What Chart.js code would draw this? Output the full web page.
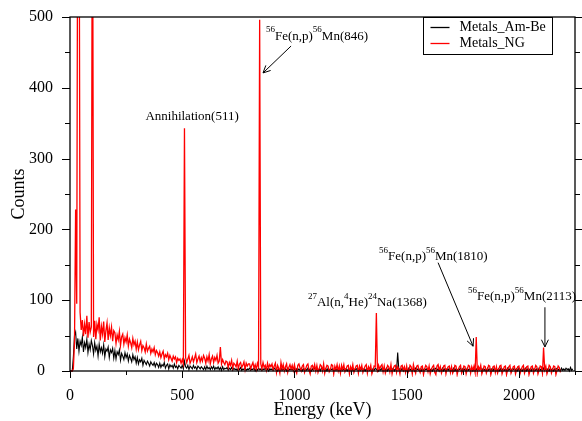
<!DOCTYPE html>
<html>
<head>
<meta charset="utf-8">
<script src="https://cdn.jsdelivr.net/npm/chart.js@4.4.0/dist/chart.umd.min.js"></script>
<style>
  html, body { margin: 0; padding: 0; background: #fff; }
  #wrap { width: 582px; height: 421px; }
</style>
</head>
<body>
<div id="wrap"><canvas id="spectrum" width="582" height="421"></canvas></div>
<script>
// channel width of the spectra (keV), first channel at 0 keV
const E_STEP = 5;

// Metals_NG (red), one value per channel, 0 .. 2185 keV
const countsNG = [
  0,0,0,3,40,228,95,800,800,83,58,72,49,66,52,78,47,69,55,62,
  800,48,71,45,66,58,76,43,63,52,70,41,57,68,44,61,50,62,42,57,
  54,39,51,44,56,36,48,52,38,47,41,51,35,45,40,33,46,37,42,31,
  41,30,37,42,29,36,33,27,38,28,32,35,25,31,27,33,23,29,26,21,
  27,19,24,28,17,23,20,25,16,22,18,14,21,17,20,12,18,15,17,11,
  16,10,343,19,12,17,22,11,15,20,13,18,24,12,17,21,13,19,14,22,
  18,11,20,14,23,10,17,21,12,19,15,22,11,14,34,10,16,12,9,14,
  13,5,12,8,15,4,11,9,6,14,3,10,12,5,8,13,2,11,7,10,
  10,3,8,12,4,9,2,11,6,496,10,3,12,5,8,1,11,4,9,6,
  10,2,7,11,-2,8,4,-3,12,3,9,0,6,10,-2,5,9,3,8,1,
  9,1,-3,8,10,4,0,7,9,-2,3,8,10,1,-4,7,8,2,9,0,
  8,-2,3,9,7,0,10,-3,4,8,7,-1,2,9,8,-4,7,2,9,0,
  7,-3,8,2,9,-1,3,7,8,-4,6,1,9,-2,3,7,8,-3,7,2,
  8,-2,3,7,9,-3,6,2,8,-4,1,7,6,82,-2,8,3,7,9,-1,
  7,-3,2,8,6,-1,9,-4,3,7,8,-2,6,3,-4,7,8,1,6,-2,
  7,-3,1,8,6,-4,9,2,-3,7,8,2,-2,6,7,-5,3,8,6,-1,
  7,-4,2,6,8,-2,-5,7,9,1,6,-3,2,7,8,-4,3,6,7,-2,
  6,-3,1,8,7,-5,2,6,8,-3,1,7,6,-4,2,8,7,-3,6,1,
  7,-2,48,-3,6,2,8,-4,1,7,6,-3,2,8,7,-5,1,6,7,-2,
  6,-3,2,7,8,-4,1,6,7,-5,2,6,8,-3,1,6,7,-4,2,6,
  7,-4,1,6,8,-3,2,6,7,-5,1,6,7,-3,2,8,6,-4,1,7,
  6,-3,33,2,7,-4,1,8,6,-3,2,7,6,-5,1,7,5,-2
];

// Metals_Am-Be (black), one value per channel, 0 .. 2240 keV
const countsAmBe = [
  0,0,0,20,50,55,31,46,28,42,36,48,27,40,33,45,26,38,30,43,
  36,24,40,29,35,21,38,27,33,25,37,20,31,28,34,19,30,26,32,18,
  29,17,27,23,30,15,25,21,16,26,19,24,14,22,18,13,23,16,20,11,
  19,10,16,13,18,8,15,12,9,14,11,7,13,10,8,12,6,11,9,5,
  11,5,9,7,12,4,8,10,3,9,6,8,4,10,5,7,3,8,6,4,
  8,3,14,6,4,8,2,7,5,3,8,4,6,2,7,5,3,6,4,2,
  6,2,7,3,5,2,6,3,7,2,5,3,6,2,5,1,6,2,4,3,
  5,1,4,2,5,1,4,2,3,1,4,2,5,1,3,2,4,1,3,2,
  4,1,3,2,4,0,3,1,4,2,3,1,3,2,4,1,3,0,3,2,
  3,1,4,2,3,0,3,1,4,1,3,2,3,0,4,1,3,2,3,1,
  4,0,3,2,3,1,4,0,3,2,3,1,4,1,3,0,3,2,4,1,
  3,1,3,0,4,2,3,1,3,0,4,1,3,2,3,0,4,1,3,1,
  3,0,4,1,3,2,3,0,3,1,4,0,3,1,3,2,4,0,3,1,
  4,1,3,0,3,2,4,1,3,0,3,1,4,2,3,0,3,1,4,0,
  3,1,4,0,3,2,3,1,4,0,3,1,26,2,3,1,4,0,3,1,
  3,0,4,1,3,1,3,0,4,2,3,1,3,0,4,1,3,2,3,0,
  4,1,3,0,3,2,4,1,3,0,3,1,4,0,3,2,3,1,4,0,
  3,1,4,0,3,1,3,2,4,0,3,1,3,0,4,1,3,2,3,0,
  4,0,3,1,3,2,4,0,3,1,3,0,4,1,3,2,3,0,4,1,
  3,1,3,0,4,2,3,1,3,0,4,1,3,0,3,2,4,1,3,0,
  4,1,3,0,3,2,4,0,3,1,3,0,4,2,3,1,3,0,4,1,
  3,0,4,1,3,2,3,0,4,1,3,0,3,2,4,1,3,0,4,1,
  3,1,4,2,3,0,5,1,3
];

const xTickLabels = [0, 500, 1000, 1500, 2000];
const yTickLabels = [0, 100, 200, 300, 400, 500];
const seriesNames = ["Metals_Am-Be", "Metals_NG"];
const seriesColors = ["#000000", "#ff0000"];

// peak labels: [text, superscript?] parts, anchored in keV / counts
const peakLabels = [
  { parts: [["Annihilation(511)", false]], x: 544, y: 359, align: "center" },
  { parts: [["56", true], ["Fe(n,p)", false], ["56", true], ["Mn(846)", false]], x: 873, y: 473, align: "left" },
  { parts: [["27", true], ["Al(n,", false], ["4", true], ["He)", false], ["24", true], ["Na(1368)", false]], x: 1060, y: 97, align: "left" },
  { parts: [["56", true], ["Fe(n,p)", false], ["56", true], ["Mn(1810)", false]], x: 1377, y: 162, align: "left" },
  { parts: [["56", true], ["Fe(n,p)", false], ["56", true], ["Mn(2113)", false]], x: 1773, y: 105, align: "left" }
];
// arrows from label to peak: [x1, y1, x2, y2] in keV / counts
const peakArrows = [
  [985, 459, 860, 421],
  [1640, 153, 1796, 35],
  [2116, 90, 2116, 34]
];

const FONT = "'Liberation Serif', 'Times New Roman', serif";

const toPoints = (arr) => arr.map((c, i) => ({ x: i * E_STEP, y: c }));

function drawRich(ctx, parts, x, y, align) {
  let w = 0;
  parts.forEach((p) => {
    ctx.font = (p[1] ? "9px " : "13px ") + FONT;
    w += ctx.measureText(p[0]).width;
  });
  let cx = align === "center" ? x - w / 2 : x;
  ctx.textAlign = "left";
  ctx.textBaseline = "middle";
  parts.forEach((p) => {
    ctx.font = (p[1] ? "9px " : "13px ") + FONT;
    ctx.fillText(p[0], cx, p[1] ? y - 6 : y);
    cx += ctx.measureText(p[0]).width;
  });
}

function drawArrow(ctx, x1, y1, x2, y2) {
  const a = Math.atan2(y2 - y1, x2 - x1);
  ctx.beginPath();
  ctx.moveTo(x1, y1);
  ctx.lineTo(x2, y2);
  ctx.moveTo(x2 - 8 * Math.cos(a - 0.45), y2 - 8 * Math.sin(a - 0.45));
  ctx.lineTo(x2, y2);
  ctx.lineTo(x2 - 8 * Math.cos(a + 0.45), y2 - 8 * Math.sin(a + 0.45));
  ctx.stroke();
}

const decorations = {
  id: "decorations",
  afterDatasetsDraw(chart) {
    const ctx = chart.ctx;
    const { left, right, top, bottom } = chart.chartArea;
    const xs = chart.scales.x;
    const ys = chart.scales.y;
    ctx.save();
    ctx.strokeStyle = "#000";
    ctx.lineWidth = 1.3;
    ctx.strokeRect(left, top, right - left, bottom - top);

    // tick marks (outside the frame)
    ctx.lineWidth = 1;
    ctx.beginPath();
    xs.ticks.forEach((t) => {
      const px = Math.round(xs.getPixelForValue(t.value)) + 0.5;
      const len = t.value % 500 === 0 ? 7 : 4;
      ctx.moveTo(px, bottom);
      ctx.lineTo(px, bottom + len);
    });
    ys.ticks.forEach((t) => {
      const py = Math.round(ys.getPixelForValue(t.value)) + 0.5;
      const len = t.value % 100 === 0 ? 8 : 5;
      ctx.moveTo(left, py);
      ctx.lineTo(left - len, py);
      ctx.moveTo(right, py);
      ctx.lineTo(right + len, py);
    });
    ctx.stroke();

    // peak labels and arrows
    ctx.fillStyle = "#000";
    peakLabels.forEach((l) => {
      drawRich(ctx, l.parts, xs.getPixelForValue(l.x), ys.getPixelForValue(l.y), l.align);
    });
    ctx.lineWidth = 1;
    peakArrows.forEach((a) => {
      drawArrow(ctx, xs.getPixelForValue(a[0]), ys.getPixelForValue(a[1]),
                xs.getPixelForValue(a[2]), ys.getPixelForValue(a[3]));
    });

    // legend box
    const lx = 423.5, ly = top + 0.5, lw = 129, lh = 37;
    ctx.fillStyle = "#fff";
    ctx.fillRect(lx, ly, lw, lh);
    ctx.strokeStyle = "#000";
    ctx.strokeRect(lx, ly, lw, lh);
    ctx.font = "14px " + FONT;
    ctx.textAlign = "left";
    ctx.textBaseline = "middle";
    seriesNames.forEach((name, i) => {
      const y = ly + 10 + i * 16;
      ctx.strokeStyle = seriesColors[i];
      ctx.lineWidth = 1.3;
      ctx.beginPath();
      ctx.moveTo(lx + 7, y);
      ctx.lineTo(lx + 26, y);
      ctx.stroke();
      ctx.fillStyle = "#000";
      ctx.fillText(name, lx + 36, y);
    });
    ctx.restore();
  }
};

const ctx = document.getElementById("spectrum").getContext("2d");
const myChart = new Chart(ctx, {
  type: "line",
  data: {
    datasets: [
      {
        label: seriesNames[1],
        data: toPoints(countsNG),
        borderColor: seriesColors[1],
        borderWidth: 1.3,
        pointRadius: 0,
        clip: { left: 0, top: 0, right: 0, bottom: 6 },
      },
      {
        label: seriesNames[0],
        data: toPoints(countsAmBe),
        borderColor: seriesColors[0],
        borderWidth: 1.1,
        pointRadius: 0,
        clip: { left: 0, top: 0, right: 0, bottom: 6 },
      },
    ],
  },
  options: {
    responsive: false,
    animation: false,
    layout: { padding: { top: 17, right: 7, left: 0, bottom: 0 } },
    plugins: { legend: { display: false }, tooltip: { enabled: false } },
    scales: {
      x: {
        type: "linear",
        min: 0,
        max: 2250,
        afterFit: (scale) => {
          scale.height = 50;
          scale.paddingLeft = 0;
          scale.paddingRight = 0;
        },
        grid: { display: false, drawTicks: false },
        border: { display: false },
        ticks: {
          stepSize: 250,
          autoSkip: false,
          maxRotation: 0,
          padding: 15,
          color: "#000",
          font: { family: FONT, size: 16 },
          callback: (v) => (xTickLabels.includes(v) ? v : ""),
        },
        title: {
          display: true,
          text: "Energy (keV)",
          color: "#000",
          font: { family: FONT, size: 18 },
          padding: { top: 0, bottom: 0 },
        },
      },
      y: {
        min: 0,
        max: 500,
        afterFit: (scale) => {
          scale.width = 70;
          scale.paddingTop = 0;
          scale.paddingBottom = 0;
        },
        grid: { display: false, drawTicks: false },
        border: { display: false },
        ticks: {
          stepSize: 50,
          autoSkip: false,
          crossAlign: "center",
          padding: 17,
          color: "#000",
          font: { family: FONT, size: 16 },
          callback: (v) => (yTickLabels.includes(v) ? v : ""),
        },
        title: {
          display: true,
          text: "Counts",
          color: "#000",
          font: { family: FONT, size: 18 },
          padding: { top: 8, bottom: 0 },
        },
      },
    },
  },
  plugins: [decorations],
});
</script>
</body>
</html>
